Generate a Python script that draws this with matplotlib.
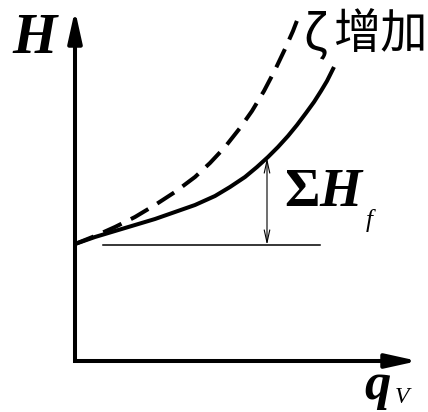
import matplotlib
matplotlib.use("Agg")
import matplotlib.pyplot as plt

plt.rcParams["mathtext.fontset"] = "custom"
plt.rcParams["mathtext.rm"] = "Liberation Serif:bold"
plt.rcParams["mathtext.it"] = "Liberation Serif:bold:italic"

# Pump-system curve H(q_V): solid = base resistance, dashed = larger ζ
q_solid = [0, 20, 40, 60, 80, 100, 120, 140, 155, 170, 182, 193, 203, 213,
           222, 231, 239, 246, 252, 259]
H_solid = [117, 124, 130, 136, 142, 149, 156, 165, 174, 184, 194, 204, 214,
           225, 236, 248, 259, 270, 280, 294]
q_dash = [0, 20, 40, 60, 80, 100, 120, 135, 150, 165, 177, 189, 200, 210,
          218, 223]
H_dash = [117, 125, 134, 144, 156, 169, 184, 198, 214, 233, 250, 270, 291,
          312, 330, 343]

H_static = 116            # static head (horizontal reference line)
q_static = [28, 245]
q_mark = 192              # where the friction head ΣH_f is marked
H_mark = 203

x_tip, y_tip = 343, 351   # axis arrow tips

fig = plt.figure(figsize=(4.28, 4.12), dpi=100)
ax = fig.add_axes([0, 0, 1, 1])
ax.set_xlim(-75, 353)
ax.set_ylim(-51, 361)
ax.axis("off")

# axes with arrows
ax.plot([0, 0, x_tip - 20], [y_tip - 20, 0, 0], color="black", lw=2.9,
        solid_joinstyle="miter", solid_capstyle="butt")
arrow = dict(arrowstyle="-|>,head_length=1.9,head_width=0.42", lw=2.9,
             color="black", shrinkA=0, shrinkB=0, mutation_scale=10)
ax.annotate("", xy=(0, y_tip), xytext=(0, y_tip - 40), arrowprops=arrow)
ax.annotate("", xy=(x_tip, 0), xytext=(x_tip - 40, 0), arrowprops=arrow)

# curves
ax.plot(q_solid, H_solid, color="black", lw=2.9, solid_capstyle="butt",
        solid_joinstyle="round")
ax.plot(q_dash, H_dash, color="black", lw=2.9, dashes=(5, 2.6),
        dash_capstyle="butt", dash_joinstyle="round")

# static head line and ΣH_f marker
ax.plot(q_static, [H_static, H_static], color="black", lw=1.1)
ax.annotate("", xy=(q_mark, H_mark), xytext=(q_mark, H_static),
            arrowprops=dict(arrowstyle="<->,head_length=0.9,head_width=0.2",
                            lw=0.8, color="black", shrinkA=0, shrinkB=0))

serif = "Liberation Serif"
ax.text(-39, 324, r"$H$", fontsize=41, ha="center", va="center")
ax.text(289, -38, r"$q$", fontsize=38, ha="left", va="baseline")
ax.text(320, -42, "V", fontsize=17, family=serif, style="italic",
        ha="left", va="baseline")

ax.text(209, 155, r"$\Sigma H$", fontsize=39, ha="left", va="baseline")
ax.text(291, 134, "f", fontsize=18, family=serif, style="italic",
        ha="left", va="baseline")

cjk = ["Noto Sans CJK SC", "DejaVu Sans"]
ax.text(228, 326, "ζ", fontsize=35, family=cjk, ha="left", va="center")
ax.text(258, 326, "增加", fontsize=34, family=cjk, ha="left", va="center")

fig.savefig("out.png", dpi=100, facecolor="white")
